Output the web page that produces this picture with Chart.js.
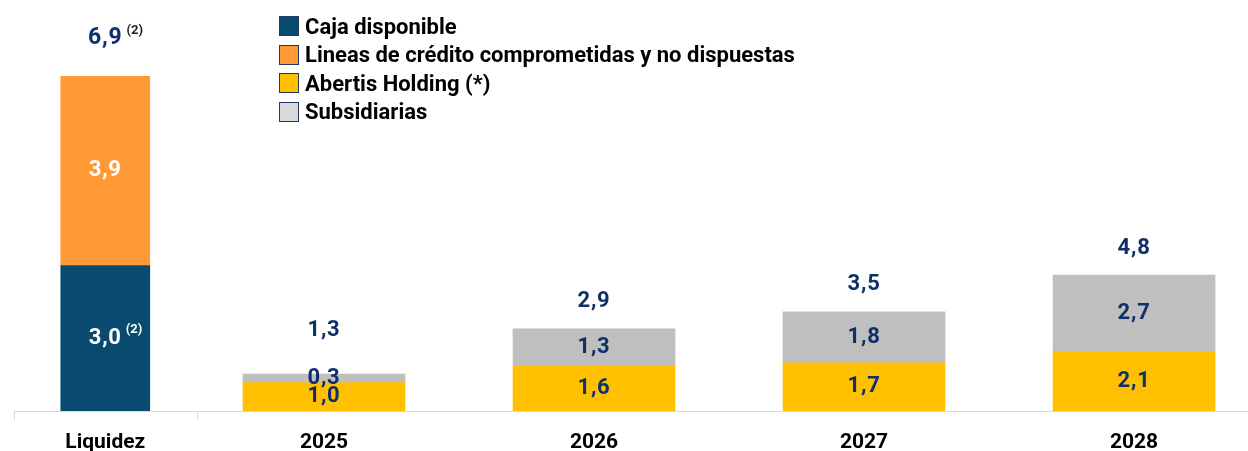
<!DOCTYPE html>
<html>
<head>
<meta charset="utf-8">
<script src="https://cdn.jsdelivr.net/npm/chart.js@4/dist/chart.umd.min.js"></script>
<style>
  html, body { margin: 0; padding: 0; background: #fff; }
  #wrap { position: relative; width: 1248px; height: 451px; }
  #legend { position: absolute; left: 279px; top: 12px; font-family: Roboto, "Noto Sans", sans-serif; font-weight: bold; font-size: 22px; color: #000; }
  #legend .row { height: 28.5px; display: flex; align-items: center; white-space: nowrap; }
  #legend .sw { width: 18px; height: 18px; border: 1px solid #1F3864; margin-right: 6px; box-sizing: content-box; }
</style>
</head>
<body>
<div id="wrap">
  <canvas id="c" width="1248" height="451"></canvas>
  <div id="legend"></div>
</div>
<script>
// ---- data ----
const categories = ['Liquidez', '2025', '2026', '2027', '2028'];
const seriesNames = ['Caja disponible', 'Lineas de crédito comprometidas y no dispuestas', 'Abertis Holding (*)', 'Subsidiarias'];
const cajaDisponible = [3.0, null, null, null, null];
const lineasCredito = [3.9, null, null, null, null];
const abertisHolding = [null, 1.0, 1.6, 1.7, 2.1];
const subsidiarias = [null, 0.3, 1.3, 1.8, 2.7];
const totalNotes = ['(2)', '', '', '', ''];
const cajaNotes = ['(2)', '', '', '', ''];

// ---- styles ----
const barColors = ['#094A6F', '#FF9A36', '#FFC000', '#BFBFBF'];
const legendColors = ['#094A6F', '#FF9A36', '#FFC000', '#D9D9D9'];
const navy = '#10306B';
const FONT = 'Roboto, "Noto Sans", sans-serif';

// layout: Liquidez slot is narrower than the year slots
const LIQ_POS = 0.19;
const SEP_POS = [-0.148, 0.53];
const xPos = i => (i === 0 ? LIQ_POS : i);
const idxOf = x => (x === LIQ_POS ? 0 : Math.round(x));

function points(arr) {
  const out = [];
  arr.forEach((v, i) => { if (v !== null) out.push({ x: xPos(i), y: v }); });
  return out;
}

const datasets = [
  { label: seriesNames[0], data: points(cajaDisponible), yAxisID: 'y', backgroundColor: barColors[0], barThickness: 89, grouped: false, notes: cajaNotes, labelColor: '#fff' },
  { label: seriesNames[1], data: points(lineasCredito), yAxisID: 'y', backgroundColor: barColors[1], barThickness: 89, grouped: false, labelColor: '#fff' },
  { label: seriesNames[2], data: points(abertisHolding), yAxisID: 'y2', backgroundColor: barColors[2], barThickness: 162, grouped: false, labelColor: navy },
  { label: seriesNames[3], data: points(subsidiarias), yAxisID: 'y2', backgroundColor: barColors[3], barThickness: 162, grouped: false, labelColor: navy }
];

// legend (HTML)
const lg = document.getElementById('legend');
seriesNames.forEach((n, i) => {
  const r = document.createElement('div'); r.className = 'row';
  const s = document.createElement('div'); s.className = 'sw'; s.style.background = legendColors[i];
  const t = document.createElement('span'); t.textContent = n;
  r.appendChild(s); r.appendChild(t); lg.appendChild(r);
});

const fmt = v => v.toFixed(1).replace('.', ',');

function drawWithNote(ctx, text, note, x, y, color, size, spacing, noteColor) {
  ctx.font = 'bold ' + size + 'px ' + FONT;
  ctx.letterSpacing = spacing + 'px';
  ctx.fillStyle = color;
  ctx.textAlign = 'center';
  ctx.textBaseline = 'middle';
  ctx.fillText(text, x, y);
  if (note) {
    const w = ctx.measureText(text).width;
    ctx.font = 'bold 13px ' + FONT;
    ctx.letterSpacing = '0px';
    ctx.fillStyle = noteColor;
    ctx.textAlign = 'left';
    ctx.fillText(note, x + w / 2 + 4, y - 8);
  }
  ctx.letterSpacing = '0px';
}

const labelPlugin = {
  id: 'valueLabels',
  afterDatasetsDraw(chart) {
    const ctx = chart.ctx;
    ctx.save();
    const tops = {};
    chart.data.datasets.forEach((ds, di) => {
      const meta = chart.getDatasetMeta(di);
      meta.data.forEach((el, j) => {
        const v = ds.data[j].y;
        const idx = idxOf(ds.data[j].x);
        const cy = (el.y + el.base) / 2;
        const note = ds.notes ? ds.notes[idx] : '';
        drawWithNote(ctx, fmt(v), note, el.x, cy, ds.labelColor, 22, 0.8, ds.labelColor);
        if (!tops[idx]) tops[idx] = { x: el.x, top: el.y, base: el.base, sum: 0 };
        tops[idx].top = Math.min(tops[idx].top, el.y);
        tops[idx].sum += v;
      });
    });
    Object.keys(tops).forEach(k => {
      const t = tops[k];
      const idx = Number(k);
      if (idx === 0) drawWithNote(ctx, fmt(t.sum), totalNotes[idx], t.x, t.top - 38, navy, 23, 0.8, '#222');
      else drawWithNote(ctx, fmt(t.sum), totalNotes[idx], t.x, Math.min(t.top - 27, t.base - 81), navy, 22, 0.8, '#222');
    });
    ctx.restore();
  }
};

new Chart(document.getElementById('c'), {
  type: 'bar',
  data: { datasets },
  options: {
    responsive: false,
    animation: false,
    devicePixelRatio: 1,
    layout: { autoPadding: false, padding: { left: 14, right: 0, top: 0, bottom: 0 } },
    plugins: { legend: { display: false }, tooltip: { enabled: false } },
    scales: {
      x: {
        type: 'linear',
        offset: false,
        min: -0.148,
        max: 4.422,
        afterBuildTicks: s => {
          s.ticks = [SEP_POS[0], LIQ_POS, SEP_POS[1], 1, 2, 3, 4].map(v => ({ value: v }));
        },
        afterFit: s => { s.height = 40; },
        ticks: {
          autoSkip: false, maxRotation: 0, padding: 10,
          color: '#000',
          font: { family: FONT, weight: 'bold', size: 21 },
          callback: v => (v === LIQ_POS ? categories[0] : (Number.isInteger(v) ? categories[v] : ''))
        },
        grid: {
          offset: false,
          drawOnChartArea: false, drawTicks: true, tickLength: 9,
          color: c => (c.tick && SEP_POS.includes(c.tick.value) ? '#D9D9D9' : 'rgba(0,0,0,0)')
        },
        border: { display: true, color: '#D9D9D9', width: 1 }
      },
      y: { display: false, stacked: true, min: 0, max: 8.474 },
      y2: { display: false, stacked: true, min: 0, max: 14.52 }
    }
  },
  plugins: [labelPlugin]
});
</script>
</body>
</html>
